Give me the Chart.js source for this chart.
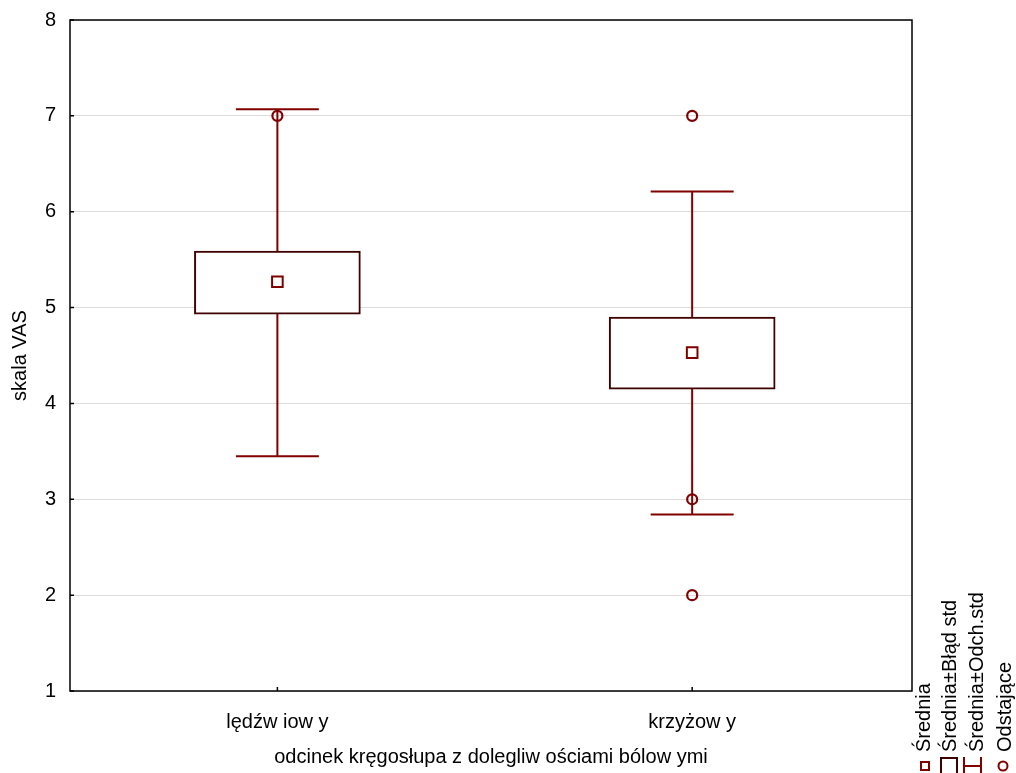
<!DOCTYPE html>
<html>
<head>
<meta charset="utf-8">
<script src="https://cdn.jsdelivr.net/npm/chart.js@4"></script>
<style>
  body { margin: 0; background: #fff; }
  #wrap { width: 1016px; height: 773px; }
</style>
</head>
<body>
<div id="wrap"><canvas id="chart" width="1016" height="773"></canvas></div>
<script>
"use strict";

// data
const categories = ["lędźw iow y", "krzyżow y"];
const means = [5.27, 4.53];
const seLow = [4.93, 4.15];
const seHigh = [5.59, 4.90];
const sdLow = [3.45, 2.84];
const sdHigh = [7.07, 6.21];
const outliers = [[7], [7, 3, 2]];
const yTicks = [1, 2, 3, 4, 5, 6, 7, 8];
const legendLabels = ["Średnia", "Średnia±Błąd std", "Średnia±Odch.std", "Odstające"];

const red = "#800000";
const darkRed = "#3f0000";
const font = "'Liberation Sans', Arial, sans-serif";
const capHalf = 0.1;

// whisker segments: vertical line and two caps per category, split by nulls
const whiskerPts = [];
categories.forEach((c, i) => {
  const x = i + 1;
  whiskerPts.push({x: x, y: sdLow[i]}, {x: x, y: sdHigh[i]}, {x: x, y: null});
  whiskerPts.push({x: x - capHalf, y: sdHigh[i]}, {x: x + capHalf, y: sdHigh[i]}, {x: x, y: null});
  whiskerPts.push({x: x - capHalf, y: sdLow[i]}, {x: x + capHalf, y: sdLow[i]}, {x: x, y: null});
});

const outlierPts = [];
outliers.forEach((list, i) => list.forEach(v => outlierPts.push({x: i + 1, y: v})));

const framePlugin = {
  id: "frame",
  afterDraw(chart) {
    const ctx = chart.ctx;
    const a = chart.chartArea;
    const xs = chart.scales.x, ys = chart.scales.y;
    ctx.save();
    ctx.strokeStyle = "#000";
    ctx.lineWidth = 1.5;
    ctx.strokeRect(a.left, a.top, a.right - a.left, a.bottom - a.top);

    // small inward tick marks
    ctx.beginPath();
    categories.forEach((c, i) => {
      const px = xs.getPixelForValue(i + 1);
      ctx.moveTo(px, a.bottom);
      ctx.lineTo(px, a.bottom - 4);
    });
    yTicks.forEach(v => {
      const py = ys.getPixelForValue(v);
      ctx.moveTo(a.left, py);
      ctx.lineTo(a.left + 4, py);
    });
    ctx.stroke();

    // legend, written bottom to top at the right edge
    const base = [930, 956, 983, 1011];
    ctx.font = "20px " + font;
    ctx.fillStyle = "#000";
    legendLabels.forEach((t, i) => {
      ctx.save();
      ctx.translate(base[i], 752);
      ctx.rotate(-Math.PI / 2);
      ctx.textBaseline = "alphabetic";
      ctx.fillText(t, 0, 0);
      ctx.restore();
    });
    ctx.lineWidth = 2;
    ctx.strokeStyle = red;
    ctx.strokeRect(921, 762, 8, 8);
    ctx.strokeStyle = darkRed;
    ctx.beginPath();
    ctx.moveTo(941, 774);
    ctx.lineTo(941, 758);
    ctx.lineTo(957, 758);
    ctx.lineTo(957, 774);
    ctx.stroke();
    ctx.strokeStyle = red;
    ctx.beginPath();
    ctx.moveTo(964, 757); ctx.lineTo(964, 774);
    ctx.moveTo(981, 757); ctx.lineTo(981, 774);
    ctx.moveTo(964, 766); ctx.lineTo(981, 766);
    ctx.stroke();
    ctx.beginPath();
    ctx.arc(1003, 766, 4.5, 0, Math.PI * 2);
    ctx.stroke();
    ctx.restore();
  }
};

const ctx = document.getElementById("chart").getContext("2d");
const chart = new Chart(ctx, {
  data: {
    datasets: [
      {
        type: "line",
        data: whiskerPts,
        borderColor: red,
        borderWidth: 2,
        pointRadius: 0,
        spanGaps: false,
        order: 4
      },
      {
        type: "bar",
        data: categories.map((c, i) => ({x: i + 1, y: [seLow[i], seHigh[i]]})),
        backgroundColor: "#fff",
        borderColor: darkRed,
        borderWidth: 2,
        borderSkipped: false,
        barThickness: 166,
        order: 3
      },
      {
        type: "scatter",
        data: categories.map((c, i) => ({x: i + 1, y: means[i]})),
        pointStyle: "rect",
        pointRadius: 7.5,
        backgroundColor: "rgba(0,0,0,0)",
        borderColor: red,
        borderWidth: 2,
        order: 2
      },
      {
        type: "scatter",
        data: outlierPts,
        pointStyle: "circle",
        pointRadius: 5,
        backgroundColor: "rgba(0,0,0,0)",
        borderColor: red,
        borderWidth: 2.2,
        order: 1
      }
    ]
  },
  options: {
    responsive: false,
    animation: false,
    layout: { padding: { top: 20, right: 104, left: 0, bottom: 0 } },
    plugins: { legend: { display: false }, tooltip: { enabled: false } },
    scales: {
      x: {
        type: "linear",
        offset: false,
        min: 0.5,
        max: 2.53,
        afterBuildTicks(axis) { axis.ticks = categories.map((c, i) => ({value: i + 1})); },
        afterFit(axis) { axis.height = 82; },
        ticks: {
          callback: v => categories[v - 1],
          font: { family: font, size: 20 },
          color: "#000",
          padding: 11,
          maxRotation: 0
        },
        grid: { display: false },
        border: { display: false },
        title: {
          display: true,
          text: "odcinek kręgosłupa z dolegliw ościami bólow ymi",
          font: { family: font, size: 20 },
          color: "#000",
          padding: { top: 4, bottom: 4 }
        }
      },
      y: {
        min: 1,
        max: 8,
        afterBuildTicks(axis) { axis.ticks = yTicks.map(v => ({value: v})); },
        afterFit(axis) {
          axis.width = 70;
          axis.paddingTop = 0;
          axis.paddingBottom = 0;
        },
        ticks: {
          font: { family: font, size: 20 },
          color: "#000",
          padding: 14
        },
        grid: { color: "#dcdcdc", lineWidth: 1, drawTicks: false },
        border: { display: false },
        title: {
          display: true,
          text: "skala VAS",
          font: { family: font, size: 20 },
          color: "#000",
          padding: { top: 8, bottom: 4 }
        }
      }
    }
  },
  plugins: [framePlugin]
});
</script>
</body>
</html>
